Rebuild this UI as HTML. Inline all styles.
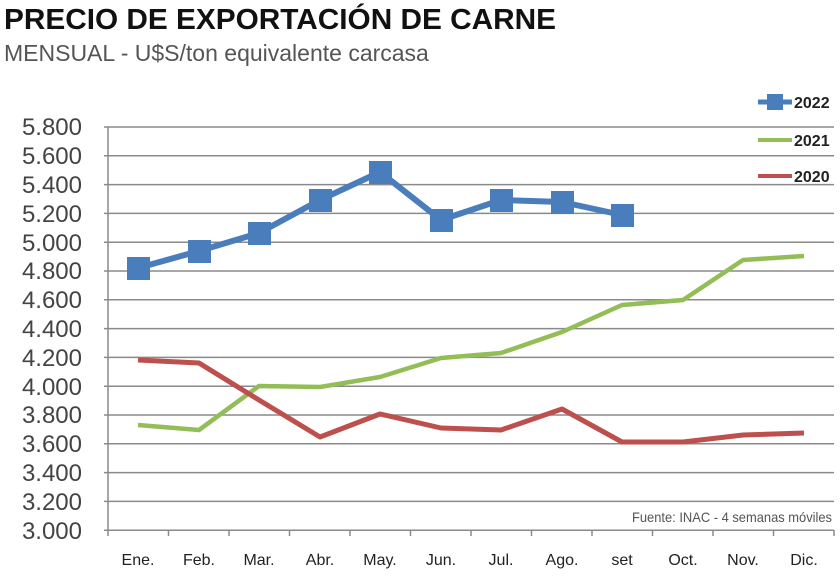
<!DOCTYPE html>
<html><head><meta charset="utf-8"><style>
body{margin:0;background:#fff;width:840px;height:577px;overflow:hidden;font-family:"Liberation Sans",sans-serif}
</style></head><body>
<svg width="840" height="577" xmlns="http://www.w3.org/2000/svg" font-family="Liberation Sans, sans-serif">
<text x="4" y="29" font-size="29" font-weight="bold" fill="#111" textLength="552" lengthAdjust="spacingAndGlyphs">PRECIO DE EXPORTACIÓN DE CARNE</text>
<text x="4" y="61" font-size="23" fill="#555">MENSUAL - U$S/ton equivalente carcasa</text>
<g stroke="#8a8a8a" stroke-width="1.5">
<line x1="104" y1="127" x2="834" y2="127"/><line x1="104" y1="155.8" x2="834" y2="155.8"/><line x1="104" y1="184.6" x2="834" y2="184.6"/><line x1="104" y1="213.4" x2="834" y2="213.4"/><line x1="104" y1="242.2" x2="834" y2="242.2"/><line x1="104" y1="271" x2="834" y2="271"/><line x1="104" y1="299.8" x2="834" y2="299.8"/><line x1="104" y1="328.6" x2="834" y2="328.6"/><line x1="104" y1="357.4" x2="834" y2="357.4"/><line x1="104" y1="386.2" x2="834" y2="386.2"/><line x1="104" y1="415" x2="834" y2="415"/><line x1="104" y1="443.8" x2="834" y2="443.8"/><line x1="104" y1="472.6" x2="834" y2="472.6"/><line x1="104" y1="501.4" x2="834" y2="501.4"/>
<line x1="104" y1="530.2" x2="834" y2="530.2"/>
<line x1="108" y1="127" x2="108" y2="530"/>
<line x1="108" y1="530" x2="108" y2="536"/><line x1="168.5" y1="530" x2="168.5" y2="536"/><line x1="229" y1="530" x2="229" y2="536"/><line x1="289.5" y1="530" x2="289.5" y2="536"/><line x1="350" y1="530" x2="350" y2="536"/><line x1="410.5" y1="530" x2="410.5" y2="536"/><line x1="471" y1="530" x2="471" y2="536"/><line x1="531.5" y1="530" x2="531.5" y2="536"/><line x1="592" y1="530" x2="592" y2="536"/><line x1="652.5" y1="530" x2="652.5" y2="536"/><line x1="713" y1="530" x2="713" y2="536"/><line x1="773.5" y1="530" x2="773.5" y2="536"/><line x1="834" y1="530" x2="834" y2="536"/>
</g>
<g font-size="24" fill="#444" text-anchor="end">
<text x="82" y="135">5.800</text><text x="82" y="164">5.600</text><text x="82" y="193">5.400</text><text x="82" y="222">5.200</text><text x="82" y="251">5.000</text><text x="82" y="279">4.800</text><text x="82" y="308">4.600</text><text x="82" y="337">4.400</text><text x="82" y="366">4.200</text><text x="82" y="395">4.000</text><text x="82" y="423">3.800</text><text x="82" y="452">3.600</text><text x="82" y="481">3.400</text><text x="82" y="510">3.200</text><text x="82" y="539">3.000</text>
</g>
<g font-size="16" fill="#222" text-anchor="middle">
<text x="138" y="565">Ene.</text><text x="199" y="565">Feb.</text><text x="259" y="565">Mar.</text><text x="320" y="565">Abr.</text><text x="380" y="565">May.</text><text x="441" y="565">Jun.</text><text x="501" y="565">Jul.</text><text x="562" y="565">Ago.</text><text x="622" y="565">set</text><text x="683" y="565">Oct.</text><text x="743" y="565">Nov.</text><text x="804" y="565">Dic.</text>
</g>
<text x="832" y="522" font-size="14" fill="#555" text-anchor="end" textLength="200" lengthAdjust="spacingAndGlyphs">Fuente: INAC - 4 semanas móviles</text>
<polyline fill="none" stroke="#93bd57" stroke-width="4.5" stroke-linejoin="round" points="138,425 199,430 259,386 320,387 380,377 441,358 501,353 562,332 622,305 683,300 743,260 804,256"/>
<polyline fill="none" stroke="#bd4f4c" stroke-width="5" stroke-linejoin="round" points="138,360 199,363 259,400 320,437 380,414 441,428 501,430 562,409 622,442 683,442 743,435 804,433"/>
<polyline fill="none" stroke="#4a7dbc" stroke-width="6" stroke-linejoin="round" points="138,268 199,251 259,233 320,200 380,172 441,220 501,200 562,202 622,215"/>
<g fill="#4a7dbc">
<rect x="127" y="257" width="23" height="23"/><rect x="188" y="240" width="23" height="23"/><rect x="248" y="222" width="23" height="23"/><rect x="309" y="189" width="23" height="23"/><rect x="369" y="161" width="23" height="23"/><rect x="430" y="209" width="23" height="23"/><rect x="490" y="189" width="23" height="23"/><rect x="551" y="191" width="23" height="23"/><rect x="611" y="204" width="23" height="23"/>
</g>
<line x1="758" y1="102" x2="792" y2="102" stroke="#4a7dbc" stroke-width="5"/><rect x="767" y="94" width="16" height="16" fill="#4a7dbc"/>
<line x1="758" y1="140" x2="792" y2="140" stroke="#93bd57" stroke-width="4"/>
<line x1="758" y1="176" x2="792" y2="176" stroke="#bd4f4c" stroke-width="4"/>
<g font-size="16" fill="#222" font-weight="bold"><text x="794" y="108">2022</text><text x="794" y="146">2021</text><text x="794" y="182">2020</text></g>
</svg>
</body></html>
